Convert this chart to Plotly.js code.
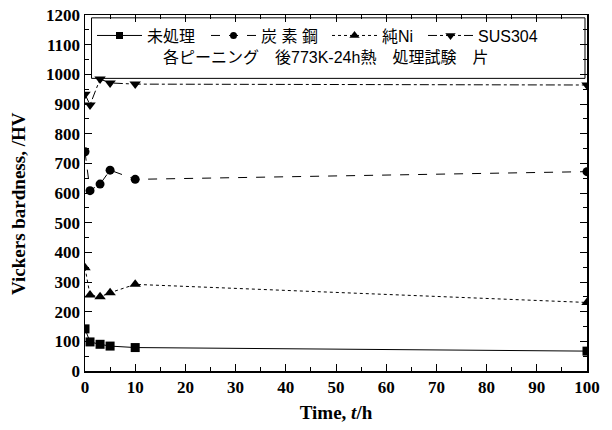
<!DOCTYPE html>
<html><head><meta charset="utf-8">
<script src="https://cdn.plot.ly/plotly-3.0.1.min.js"></script>
<style>body{margin:0;background:#fff}#c{width:612px;height:430px}</style>
</head><body><div id="c"></div>
<script>
const time = [0, 1, 3, 5, 10, 100];
const untreated = [142, 98, 90, 84, 79, 67];
const carbonSteel = [739, 608, 630, 677, 646, 672];
const pureNi = [348, 256, 250, 264, 292, 231];
const sus304 = [933, 897, 984, 971, 967, 964];
const names = ['未処理', '炭 素 鋼', '純Ni', 'SUS304'];
const subtitle = '各ピーニング\u3000後773K-24h熱\u3000処理試験\u3000片';
const xTicks = [0, 10, 20, 30, 40, 50, 60, 70, 80, 90, 100];
const yTicks = [0, 100, 200, 300, 400, 500, 600, 700, 800, 900, 1000, 1100, 1200];

const series = [untreated, carbonSteel, pureNi, sus304];
const dashes = ['solid', 'dash', 'dot', 'dashdot'];
const symbols = ['square', 'circle', 'triangle-up', 'triangle-down'];
const legendIds = ['legend', 'legend2', 'legend3', 'legend4'];
const legendX = [92, 206, 327, 423];
const legendMarker = [7, 7, 9, 9];
const traces = [];
series.forEach((s, i) => {
  traces.push({
    x: time, y: s, name: names[i], type: 'scatter', mode: 'lines+markers', showlegend: false,
    line: {color: '#000', width: 1, dash: dashes[i]},
    marker: {symbol: symbols[i], size: i >= 2 ? 10 : 9, color: '#000'}
  });
});
series.forEach((s, i) => {
  traces.push({
    x: [null], y: [null], name: names[i], type: 'scatter', mode: 'lines+markers', showlegend: true,
    legend: legendIds[i],
    line: {color: '#000', width: 1, dash: dashes[i]},
    marker: {symbol: symbols[i], size: legendMarker[i], color: '#000'}
  });
});
const serif = 'Liberation Serif, Times New Roman, serif';
const tf = {family: serif, size: 17, color: '#000', weight: 'bold'};
const sans = 'Liberation Sans, Arial, Noto Sans CJK JP, sans-serif';
const bold = v => '<b>' + v + '</b>';
const layout = {
  width: 612, height: 430,
  margin: {l: 85, r: 25, t: 15, b: 59},
  paper_bgcolor: '#fff', plot_bgcolor: '#fff',
  showlegend: true,
  xaxis: {range: [0, 100], tickvals: xTicks, ticktext: xTicks.map(bold), ticks: 'inside', ticklen: 7,
    tickwidth: 1, tickcolor: '#000',
    minor: {dtick: 5, ticks: 'inside', ticklen: 4, tickcolor: '#000'},
    showline: true, linecolor: '#000', linewidth: 1.5, mirror: 'ticks', showgrid: false, zeroline: false,
    tickfont: tf,
    title: {text: '<b>Time, <i>t</i>/h</b>', font: {family: serif, size: 19, color: '#000'}, standoff: 10}},
  yaxis: {range: [0, 1200], tickvals: yTicks, ticktext: yTicks.map(bold), ticks: 'inside', ticklen: 7, tickwidth: 1, tickcolor: '#000',
    minor: {dtick: 50, ticks: 'inside', ticklen: 4, tickcolor: '#000'},
    showline: true, linecolor: '#000', linewidth: 1.5, mirror: 'ticks', showgrid: false, zeroline: false,
    tickfont: tf},
  shapes: [{type: 'rect', xref: 'paper', yref: 'paper', x0: 0.013, x1: 0.996, y0: 0.822, y1: 0.992,
    line: {color: '#000', width: 1}, fillcolor: 'rgba(0,0,0,0)'}],
  annotations: [
    {text: subtitle, xref: 'paper', yref: 'paper', x: 0.48, y: 0.882, xanchor: 'center', yanchor: 'middle',
     showarrow: false, font: {family: sans, size: 16, color: '#000'}},
    {text: '<b>Vickers bardness, /HV</b>', xref: 'paper', yref: 'paper', x: (18 - 85) / 502, y: (371 - 204) / 356,
     xanchor: 'center', yanchor: 'middle', textangle: -90, showarrow: false,
     font: {family: serif, size: 19, color: '#000'}}
  ]
};
legendIds.forEach((id, i) => {
  layout[id] = {orientation: 'h', x: (legendX[i] - 85) / 502, y: 0.99, xanchor: 'left', yanchor: 'top',
    font: {family: sans, size: 16, color: '#000'}, bgcolor: 'rgba(0,0,0,0)', borderwidth: 0,
    itemwidth: 45};
});
Plotly.newPlot('c', traces, layout, {staticPlot: true});
</script></body></html>
